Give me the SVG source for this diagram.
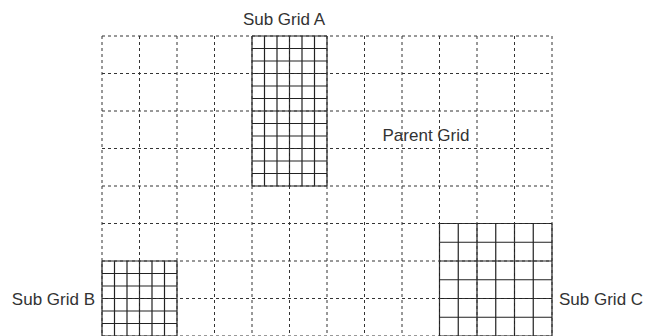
<svg xmlns="http://www.w3.org/2000/svg" width="656" height="336" viewBox="0 0 656 336">
<style>
.dash{fill:none;stroke:#333;stroke-width:1;stroke-dasharray:3 3}
.solid{fill:none;stroke:#222;stroke-width:1.2}
.lbl{font-family:"Liberation Sans",Arial,sans-serif;font-size:17px;fill:#333}
</style>
<rect width="656" height="336" fill="#fff"/>
<g id="sub-grid-a">
<path class="solid" d="M252 36V186M264.5 36V186M277 36V186M289.5 36V186M302 36V186M314.5 36V186M327 36V186M252 36H327M252 48.5H327M252 61H327M252 73.5H327M252 86H327M252 98.5H327M252 111H327M252 123.5H327M252 136H327M252 148.5H327M252 161H327M252 173.5H327M252 186H327"/>
<text class="lbl" x="284" y="25" text-anchor="middle">Sub Grid A</text>
</g>
<g id="sub-grid-b">
<path class="solid" d="M102 261V336M114.5 261V336M127 261V336M139.5 261V336M152 261V336M164.5 261V336M177 261V336M102 261H177M102 273.5H177M102 286H177M102 298.5H177M102 311H177M102 323.5H177M102 336H177"/>
<text class="lbl" x="95" y="305" text-anchor="end">Sub Grid B</text>
</g>
<g id="sub-grid-c">
<path class="solid" d="M439.5 223.5V336M458.25 223.5V336M477 223.5V336M495.75 223.5V336M514.5 223.5V336M533.25 223.5V336M552 223.5V336M439.5 223.5H552M439.5 242.25H552M439.5 261H552M439.5 279.75H552M439.5 298.5H552M439.5 317.25H552M439.5 336H552"/>
<text class="lbl" x="559" y="305">Sub Grid C</text>
</g>
<g id="parent-grid">
<path class="dash" d="M102 36V336M139.5 36V336M177 36V336M214.5 36V336M252 36V336M289.5 36V336M327 36V336M364.5 36V336M402 36V336M439.5 36V336M477 36V336M514.5 36V336M552 36V336M102 36H552M102 73.5H552M102 111H552M102 148.5H552M102 186H552M102 223.5H552M102 261H552M102 298.5H552M102 336H552"/>
<text class="lbl" x="426" y="141" text-anchor="middle">Parent Grid</text>
</g>
<g id="connectors"/>
</svg>
